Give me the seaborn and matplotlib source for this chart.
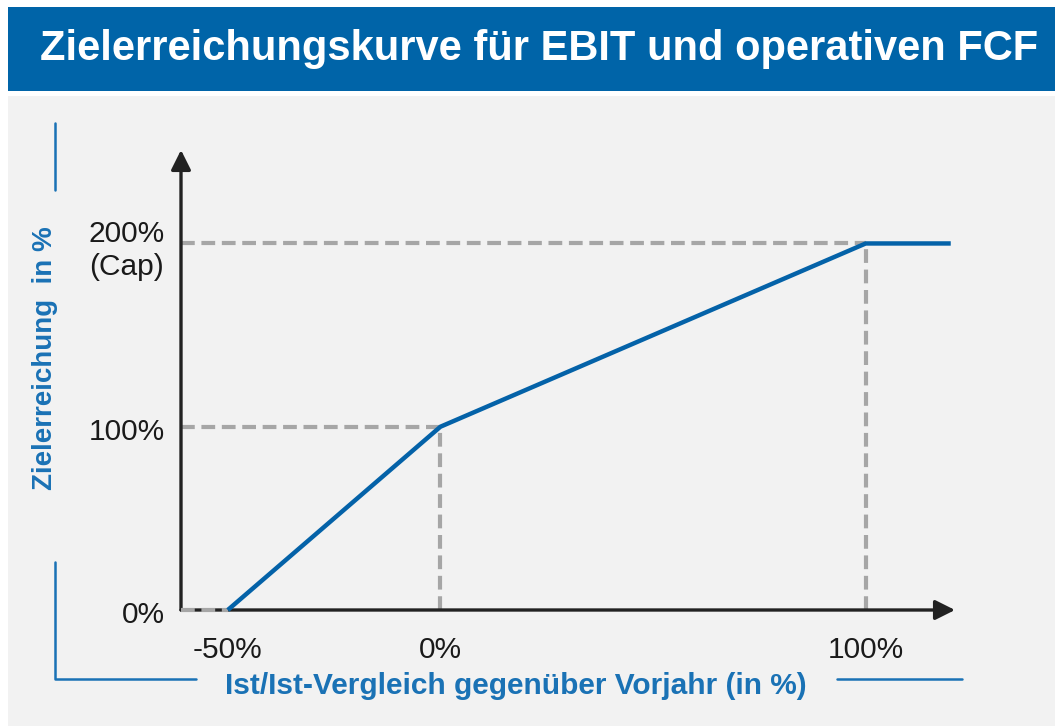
import matplotlib.pyplot as plt
import matplotlib.transforms as mtransforms
import seaborn as sns
import pandas as pd
from matplotlib.patches import Rectangle
from matplotlib.lines import Line2D

# ---------------------------
# DATA
# ---------------------------
title = "Zielerreichungskurve für EBIT und operativen FCF"
x_label = "Ist/Ist-Vergleich gegenüber Vorjahr (in %)"
y_label = "Zielerreichung  in %"

# Kurve: Ist/Ist-Vergleich (x) -> Zielerreichung (y), Werte in %
curve_x = [-50, 0, 100, 120]
curve_y = [0, 100, 200, 200]

# Hilfslinien (Schwellenwerte)
guide_x = [0, 100]
guide_y = [100, 200]

x_ticks = [-50, 0, 100]
x_tick_labels = ["-50%", "0%", "100%"]
y_ticks = [0, 100, 200]
y_tick_labels = ["0%", "100%", "200%\n(Cap)"]

# ---------------------------
# STYLE
# ---------------------------
sns.set_style("white")
plt.rcParams["font.family"] = ["Liberation Sans", "DejaVu Sans"]

BLUE = "#0462a8"
LABEL_BLUE = "#1a72b5"
GREY = "#a6a6a6"
AXIS = "#222222"

W, H = 1055, 726
fig = plt.figure(figsize=(W / 100, H / 100), dpi=100, facecolor="white")
px = lambda dx, dy: mtransforms.ScaledTranslation(dx / 100, dy / 100, fig.dpi_scale_trans)

# banner and grey panel (figure pixels), kept behind the axes
fig.patches.append(Rectangle((8 / W, 1 - 91 / H), 1, 84 / H, transform=fig.transFigure,
                             facecolor="#0064a8", edgecolor="none", zorder=-5))
fig.patches.append(Rectangle((8 / W, 0), 1, 1 - 96 / H, transform=fig.transFigure,
                             facecolor="#f2f2f2", edgecolor="none", zorder=-5))
fig.text(40 / W, 1 - 49 / H, title, color="white", fontsize=30, fontweight="bold",
         va="center", ha="left")

# axes placed so the data range lines up with the reference
x_min, x_max = -61, 121
y_min, y_max = 0, 251
ax = fig.add_axes([181 / W, (H - 610) / H, 774 / W, 460 / H])
ax.set_facecolor("none")
ax.set_zorder(2)
ax.set_xlim(x_min, x_max)
ax.set_ylim(y_min, y_max)

# axis lines with arrow heads
sns.despine(ax=ax, left=True, bottom=True)
arrow = dict(arrowstyle="-|>,head_length=0.6,head_width=0.3", color=AXIS, lw=2.4,
             mutation_scale=20, shrinkA=0, shrinkB=0)
ax.annotate("", xy=(1, 0), xytext=(0, 0), xycoords="axes fraction", arrowprops=arrow, zorder=3)
ax.annotate("", xy=(0, 1), xytext=(0, 0), xycoords="axes fraction", arrowprops=arrow, zorder=3)

# dashed guide lines
dash = dict(color=GREY, lw=3, linestyle=(0, (3.3, 1.6)), zorder=2, clip_on=False)
for gx, gy in zip(guide_x, guide_y):
    ax.plot([x_min, gx], [gy, gy], **dash)
    ax.plot([gx, gx], [0, gy], **dash)
ax.plot([x_min, curve_x[0]], [0, 0], **{**dash, "zorder": 4})

# curve
df = pd.DataFrame({"ist": curve_x, "ziel": curve_y})
sns.lineplot(data=df, x="ist", y="ziel", ax=ax, color=BLUE, lw=3.2, sort=False,
             zorder=5, clip_on=False, solid_capstyle="butt")

ax.set_xticks(x_ticks)
ax.set_xticklabels(x_tick_labels)
ax.set_yticks(y_ticks)
ax.set_yticklabels(y_tick_labels, linespacing=1.2)
ax.tick_params(length=0, labelsize=21.5, colors="#1a1a1a")
ax.tick_params(axis="x", pad=19)
ax.tick_params(axis="y", pad=11.5)
ax.set_xlabel("")
ax.set_ylabel("")
for lab in ax.get_yticklabels():
    lab.set_transform(lab.get_transform() + px(0, -2))
# the cap label: two centred lines, block hanging just below the 200 line
cap = ax.get_yticklabels()[2]
cap.set_multialignment("center")
cap.set_va("center")
cap.set_transform(cap.get_transform() + px(0, -5))

# axis titles and the blue bracket lines
fig.text(45 / W, 1 - 358 / H, y_label, rotation=90, color=LABEL_BLUE, fontsize=20,
         fontweight="bold", ha="center", va="center")
fig.text(516 / W, 1 - 686 / H, x_label, color=LABEL_BLUE, fontsize=21.5,
         fontweight="bold", ha="center", va="center")
bracket = dict(color=LABEL_BLUE, lw=1.8, transform=fig.transFigure)
fig.lines.append(Line2D([55 / W, 55 / W], [1 - 123 / H, 1 - 190 / H], **bracket))
fig.lines.append(Line2D([55 / W, 55 / W, 196 / W], [1 - 562 / H, 1 - 679 / H, 1 - 679 / H], **bracket))
fig.lines.append(Line2D([837 / W, 962 / W], [1 - 679 / H, 1 - 679 / H], **bracket))

plt.savefig("out.png", dpi=100, facecolor=fig.get_facecolor())
